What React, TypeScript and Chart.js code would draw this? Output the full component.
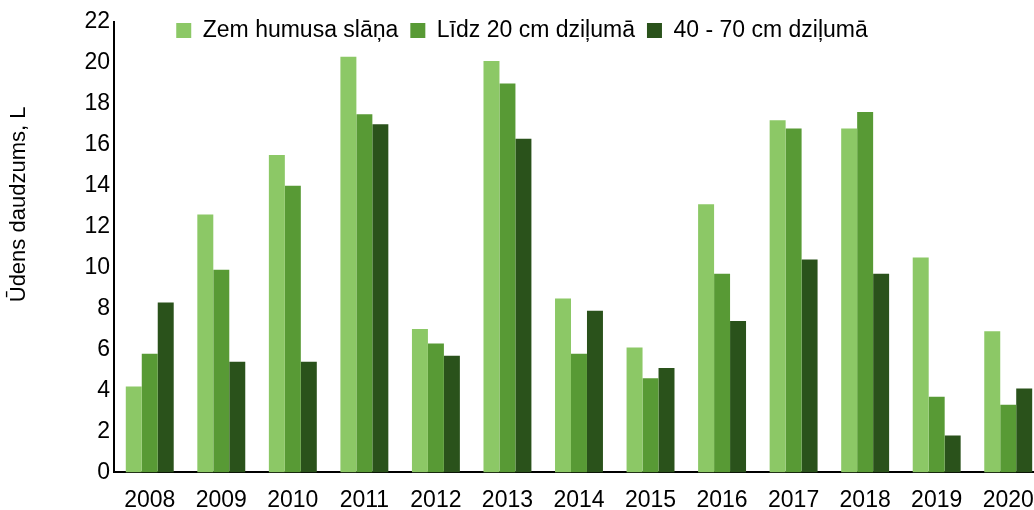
import React, { useEffect, useRef } from "react";
import { Chart, registerables } from "chart.js";

Chart.register(...registerables);

const years = ["2008", "2009", "2010", "2011", "2012", "2013", "2014", "2015", "2016", "2017", "2018", "2019", "2020"];
const seriesNames = ["Zem humusa slāņa", "Līdz 20 cm dziļumā", "40 - 70 cm dziļumā"];
const underHumus = [4.2, 12.6, 15.5, 20.3, 7.0, 20.1, 8.5, 6.1, 13.1, 17.2, 16.8, 10.5, 6.9];
const upTo20cm = [5.8, 9.9, 14.0, 17.5, 6.3, 19.0, 5.8, 4.6, 9.7, 16.8, 17.6, 3.7, 3.3];
const depth40to70 = [8.3, 5.4, 5.4, 17.0, 5.7, 16.3, 7.9, 5.1, 7.4, 10.4, 9.7, 1.8, 4.1];
const seriesColors = ["#8cc866", "#589a35", "#2a521b"];
const yTitle = "Ūdens daudzums, L";

export default function App() {
  const ref = useRef<HTMLCanvasElement | null>(null);

  useEffect(() => {
    if (!ref.current) return;
    const font = "'Liberation Sans', Arial, sans-serif";
    const values = [underHumus, upTo20cm, depth40to70];
    const legendOverlay = {
      id: "legendOverlay",
      afterLayout(chart: any) {
        const l = chart.legend;
        if (l) {
          l.height = 50;
          l.bottom = l.top + 50;
        }
      },
    };
    const chart = new Chart(ref.current, {
      type: "bar",
      data: {
        labels: years,
        datasets: values.map((d, i) => ({
          label: seriesNames[i],
          data: d,
          backgroundColor: seriesColors[i],
          borderWidth: 0,
          categoryPercentage: 0.67,
          barPercentage: 1.0,
        })),
      },
      plugins: [legendOverlay],
      options: {
        animation: false,
        responsive: true,
        maintainAspectRatio: false,
        layout: { padding: { top: 7, right: 8, bottom: -18, left: 0 } },
        plugins: {
          tooltip: { enabled: false },
          legend: {
            position: "top",
            maxHeight: 15,
            labels: {
              color: "#000",
              font: { family: font, size: 23 },
              boxWidth: 15,
              boxHeight: 15,
              padding: 12,
            },
          },
        },
        scales: {
          x: {
            grid: { display: false, drawTicks: false },
            border: { display: true, color: "#000", width: 2 },
            ticks: { color: "#000", font: { family: font, size: 23 }, padding: 14, maxRotation: 0, autoSkip: false },
          },
          y: {
            min: 0,
            max: 22,
            grid: { display: false, drawTicks: false },
            border: { display: true, color: "#000", width: 2 },
            ticks: { stepSize: 2, color: "#000", font: { family: font, size: 23 }, padding: 4 },
            title: {
              display: true,
              text: "              " + yTitle,
              color: "#000",
              font: { family: font, size: 22 },
              padding: { top: 6, bottom: 48 },
            },
          },
        },
      },
    });
    return () => chart.destroy();
  }, []);

  return (
    <div style={{ position: "fixed", left: 0, top: 0, width: 1034, height: 510, overflow: "hidden", background: "#fff" }}>
      <div style={{ position: "relative", width: 1052, height: 510 }}>
        <canvas ref={ref} />
      </div>
    </div>
  );
}
